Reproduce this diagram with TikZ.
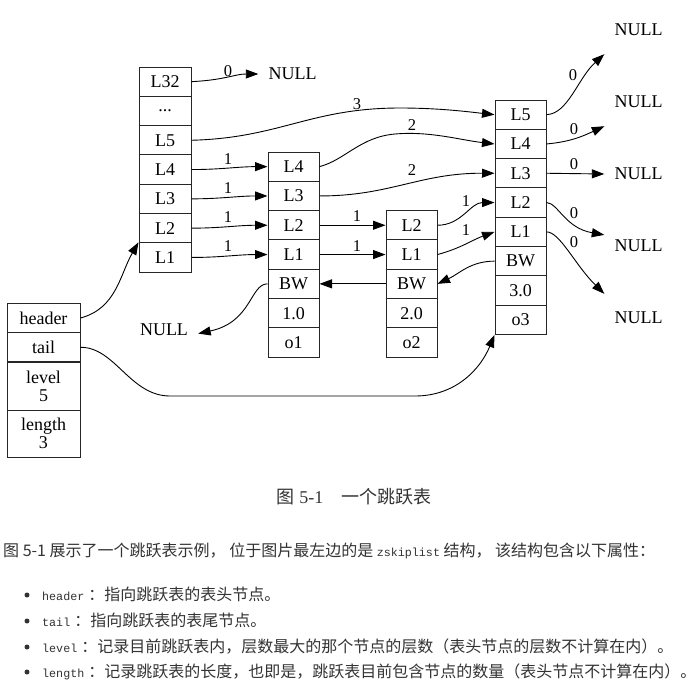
\documentclass[tikz,border=0pt]{standalone}
\usepackage{fontspec}
\setmainfont{Liberation Serif}
\newfontfamily\cjk{Noto Sans CJK SC}
\newfontfamily\monof{Liberation Mono}
\usetikzlibrary{arrows.meta}
\definecolor{txt}{RGB}{51,51,51}
\begin{document}
\begin{tikzpicture}[x=1pt,y=1pt,
  cell/.style={draw=black!85, line width=1pt, inner sep=0pt, minimum width=52pt, minimum height=29.3pt, font=\fontsize{18}{18}\selectfont},
  scell/.style={cell, minimum width=73pt},
  nul/.style={font=\fontsize{18}{18}\selectfont, inner xsep=10pt, inner ysep=0pt, minimum height=48pt},
  lab/.style={font=\fontsize{16.5}{16.5}\selectfont, inner sep=0pt},
  edge/.style={-{Triangle[length=12.5pt,width=9pt]}, line width=0.9pt},
  body/.style={font=\fontsize{16}{16}\selectfont, text=txt, inner sep=0pt, anchor=base west},
  bullet/.style={circle, fill=txt, inner sep=0pt, minimum size=5pt}
]
\fill[white] (0,0) rectangle (700,-680);
\useasboundingbox (0,0) rectangle (700,-680);

% header node
\node[cell] (h32) at (165,-81.65) {L32};
\node[cell] (hdd) at (165,-110.95) {...};
\node[cell] (h5) at (165,-140.25) {L5};
\node[cell] (h4) at (165,-169.55) {L4};
\node[cell] (h3) at (165,-198.85) {L3};
\node[cell] (h2) at (165,-228.15) {L2};
\node[cell] (h1) at (165,-257.45) {L1};

% node 1
\node[cell, minimum width=51pt] (a4) at (293.5,-166.65) {L4};
\node[cell, minimum width=51pt] (a3) at (293.5,-195.95) {L3};
\node[cell, minimum width=51pt] (a2) at (293.5,-225.25) {L2};
\node[cell, minimum width=51pt] (a1) at (293.5,-254.55) {L1};
\node[cell, minimum width=51pt] (abw) at (293.5,-283.85) {BW};
\node[cell, minimum width=51pt] (asc) at (293.5,-313.15) {1.0};
\node[cell, minimum width=51pt] (aob) at (293.5,-342.45) {o1};

% node 2
\node[cell, minimum width=51pt] (b2) at (411.5,-225.25) {L2};
\node[cell, minimum width=51pt] (b1) at (411.5,-254.55) {L1};
\node[cell, minimum width=51pt] (bbw) at (411.5,-283.85) {BW};
\node[cell, minimum width=51pt] (bsc) at (411.5,-313.15) {2.0};
\node[cell, minimum width=51pt] (bob) at (411.5,-342.45) {o2};

% node 3
\node[cell, minimum width=51pt] (c5) at (520.5,-114.65) {L5};
\node[cell, minimum width=51pt] (c4) at (520.5,-143.95) {L4};
\node[cell, minimum width=51pt] (c3) at (520.5,-173.25) {L3};
\node[cell, minimum width=51pt] (c2) at (520.5,-202.55) {L2};
\node[cell, minimum width=51pt] (c1) at (520.5,-231.85) {L1};
\node[cell, minimum width=51pt] (cbw) at (520.5,-261.15) {BW};
\node[cell, minimum width=51pt] (csc) at (520.5,-290.45) {3.0};
\node[cell, minimum width=51pt] (cob) at (520.5,-319.75) {o3};

% zskiplist struct
\node[scell] (shead) at (43.5,-318) {header};
\node[scell] (stail) at (43.5,-347.3) {tail};
\node[scell, minimum height=48pt, align=center] (slev) at (43.5,-386) {level\\5};
\node[scell, minimum height=47pt, align=center] (slen) at (43.5,-433.5) {length\\3};

% NULL nodes
\node[nul] (nA) at (292.5,-74) {NULL};
\node[nul] (nB) at (164,-330) {NULL};
\node[nul] (n1) at (638.5,-30) {NULL};
\node[nul] (n2) at (638.5,-102) {NULL};
\node[nul] (n3) at (638.5,-174) {NULL};
\node[nul] (n4) at (638.5,-246) {NULL};
\node[nul] (n5) at (638.5,-318) {NULL};

% edges from header node
\draw[edge] (h32.east) .. controls (225,-80) and (235,-74) .. (nA.west);
\draw[edge] (h5.east) .. controls (280,-138) and (310,-108) .. (400,-108) .. controls (440,-108) and (470,-112) .. (c5.west);
\draw[edge] (h4.east) to[out=0,in=180] (a4.west);
\draw[edge] (h3.east) to[out=0,in=180] (a3.west);
\draw[edge] (h2.east) to[out=0,in=180] (a2.west);
\draw[edge] (h1.east) to[out=0,in=180] (a1.west);
% edges from node 1
\draw[edge] (a4.east) .. controls (345,-160) and (360,-137) .. (395,-134) .. controls (430,-131) and (460,-140) .. (c4.west);
\draw[edge] (a3.east) .. controls (390,-196) and (420,-173) .. (c3.west);
\draw[edge] (a2.east) -- (b2.west);
\draw[edge] (a1.east) -- (b1.west);
% edges from node 2
\draw[edge] (b2.east) to[out=0,in=180] (c2.west);
\draw[edge] (b1.east) to[out=15,in=200] (c1.west);
% backward
\draw[edge] (cbw.west) to[out=180,in=25] (bbw.east);
\draw[edge] (bbw.west) -- (abw.east);
\draw[edge] (abw.west) .. controls (250,-284) and (252,-322) .. (nB.-6);
% node 3 forward to NULL
\draw[edge] (c5.east) .. controls (568,-114) and (578,-78) .. (n1.south west);
\draw[edge] (c4.east) to[out=5,in=-155] (n2.south west);
\draw[edge] (c3.east) -- (n3.west);
\draw[edge] (c2.east) .. controls (558,-203) and (565,-228) .. (n4.162);
\draw[edge] (c1.east) .. controls (560,-232) and (575,-265) .. (n5.north west);
% struct pointers
\draw[edge] (shead.east) to[out=15,in=-120] (h1.north west);
\draw[edge] (stail.east) .. controls (115,-347) and (130,-396) .. (170,-396) -- (415,-396) .. controls (455,-396) and (480,-370) .. (cob.south west);

% edge labels
\node[lab] (l0) at (228,-71) {0};
\node[lab] (l3) at (357,-104) {3};
\node[lab] (la) at (228,-159) {1};
\node[lab] (lb) at (228,-188) {1};
\node[lab] (lc) at (228,-217) {1};
\node[lab] (ld) at (228,-246) {1};
\node[lab] (le) at (412,-125) {2};
\node[lab] (lf) at (412,-170) {2};
\node[lab] (lg) at (357,-216) {1};
\node[lab] (lh) at (357,-246) {1};
\node[lab] (li) at (466,-201) {1};
\node[lab] (lj) at (466,-230) {1};
\node[lab] (r1) at (573,-75) {0};
\node[lab] (r2) at (574,-129) {0};
\node[lab] (r3) at (574,-164) {0};
\node[lab] (r4) at (574,-213) {0};
\node[lab] (r5) at (574,-242) {0};

% caption
\node[font=\fontsize{18}{18}\selectfont, text=txt, inner sep=0pt, anchor=base] (cap) at (354,-503) {{\cjk 图} 5-1{\cjk 　一个跳跃表}};

% body text
\node[body] (p1) at (3,-556) {\cjk 图 5-1 展示了一个跳跃表示例， 位于图片最左边的是 {\monof\fontsize{11.7}{12}\selectfont zskiplist} 结构， 该结构包含以下属性：};

\node[bullet] (bu1) at (27,-595) {};
\node[bullet] (bu2) at (27,-621) {};
\node[bullet] (bu3) at (27,-647) {};
\node[bullet] (bu4) at (27,-672) {};
\node[body] (t1) at (42,-600) {{\monof\fontsize{11.7}{12}\selectfont header} {\cjk ：指向跳跃表的表头节点。}};
\node[body] (t2) at (42,-626) {{\monof\fontsize{11.7}{12}\selectfont tail} {\cjk ：指向跳跃表的表尾节点。}};
\node[body] (t3) at (42,-652) {{\monof\fontsize{11.7}{12}\selectfont level} {\cjk ：记录目前跳跃表内，层数最大的那个节点的层数（表头节点的层数不计算在内）。}};
\node[body] (t4) at (42,-677) {{\monof\fontsize{11.7}{12}\selectfont length} {\cjk ：记录跳跃表的长度，也即是，跳跃表目前包含节点的数量（表头节点不计算在内）。}};
\end{tikzpicture}
\end{document}
